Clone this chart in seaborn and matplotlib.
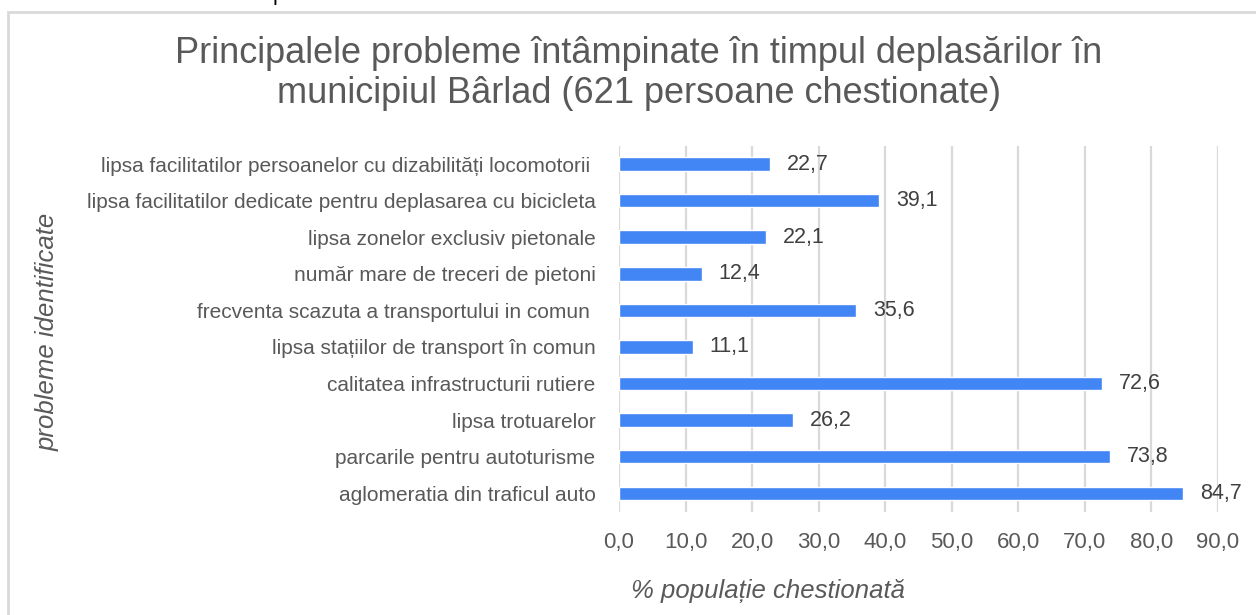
import matplotlib
matplotlib.use('Agg')
import matplotlib.pyplot as plt
import pandas as pd
import seaborn as sns
from matplotlib.patches import Rectangle

categories = [
    'lipsa facilitatilor persoanelor cu dizabilități locomotorii ',
    'lipsa facilitatilor dedicate pentru deplasarea cu bicicleta',
    'lipsa zonelor exclusiv pietonale',
    'număr mare de treceri de pietoni',
    'frecventa scazuta a transportului in comun ',
    'lipsa stațiilor de transport în comun',
    'calitatea infrastructurii rutiere',
    'lipsa trotuarelor',
    'parcarile pentru autoturisme',
    'aglomeratia din traficul auto',
]
values = [22.7, 39.1, 22.1, 12.4, 35.6, 11.1, 72.6, 26.2, 73.8, 84.7]
xticks = [0, 10, 20, 30, 40, 50, 60, 70, 80, 90]

title_lines = ['Principalele probleme întâmpinate în timpul deplasărilor în',
               'municipiul Bârlad (621 persoane chestionate)']
ylabel = 'probleme identificate'
xlabel = '% populație chestionată'

df = pd.DataFrame({'problema': categories, 'procent': values})

sns.set_style('white')
plain = ['Liberation Sans', 'DejaVu Sans']
plt.rcParams['font.family'] = plain

W, H = 1256, 615
fig = plt.figure(figsize=(W / 100, H / 100), dpi=100)
# plot area: x 0 -> 90 spans px 619..1218, rows span px 146..512
ax = fig.add_axes([619 / W, 1 - 511.6 / H, 599 / W, 365.8 / H])

sns.barplot(data=df, y='problema', x='procent', orient='h', color='#4285f4',
            saturation=1, width=0.37, ax=ax)

ax.set_xlim(0, 90)
ax.set_xticks(xticks)
ax.set_xticklabels([f'{t:.1f}'.replace('.', ',') for t in xticks],
                   fontsize=16, color='#595959')
ax.set_yticklabels(categories, fontsize=15, color='#595959')
ax.tick_params(axis='y', length=0, pad=17)
ax.tick_params(axis='x', length=0, pad=14.5)
ax.grid(axis='x', color='#d9d9d9', linewidth=1.6)
ax.set_axisbelow(True)
for s in ax.spines.values():
    s.set_visible(False)

for i, v in enumerate(values):
    ax.text(v + 2.55, i, f'{v:.1f}'.replace('.', ','), va='center', ha='left',
            fontsize=15.5, color='#404040')

ax.set_ylabel('')
ax.set_xlabel('')
fig.text(48 / W, 1 - 332 / H, ylabel, rotation=90, ha='center', va='center',
         style='italic', fontsize=18.5, color='#595959')
fig.text(768 / W, 1 - 598 / H, xlabel, ha='center', va='baseline',
         style='italic', fontsize=18.5, color='#595959')
fig.text(639 / W, 1 - 63 / H, title_lines[0], ha='center', va='baseline',
         fontsize=26, color='#595959')
fig.text(639 / W, 1 - 103 / H, title_lines[1], ha='center', va='baseline',
         fontsize=26, color='#595959')

# stray descender of text cropped above the chart
fig.text(279 / W, 1.0, 'p', ha='center', va='baseline', fontsize=16,
         color='black')

fig.patches.append(Rectangle((8 / W, -0.05), 1.1, 1 - 12 / H + 0.05,
                             transform=fig.transFigure, fill=False,
                             edgecolor='#d9d9d9', linewidth=2))

fig.savefig('out.png', dpi=100)
